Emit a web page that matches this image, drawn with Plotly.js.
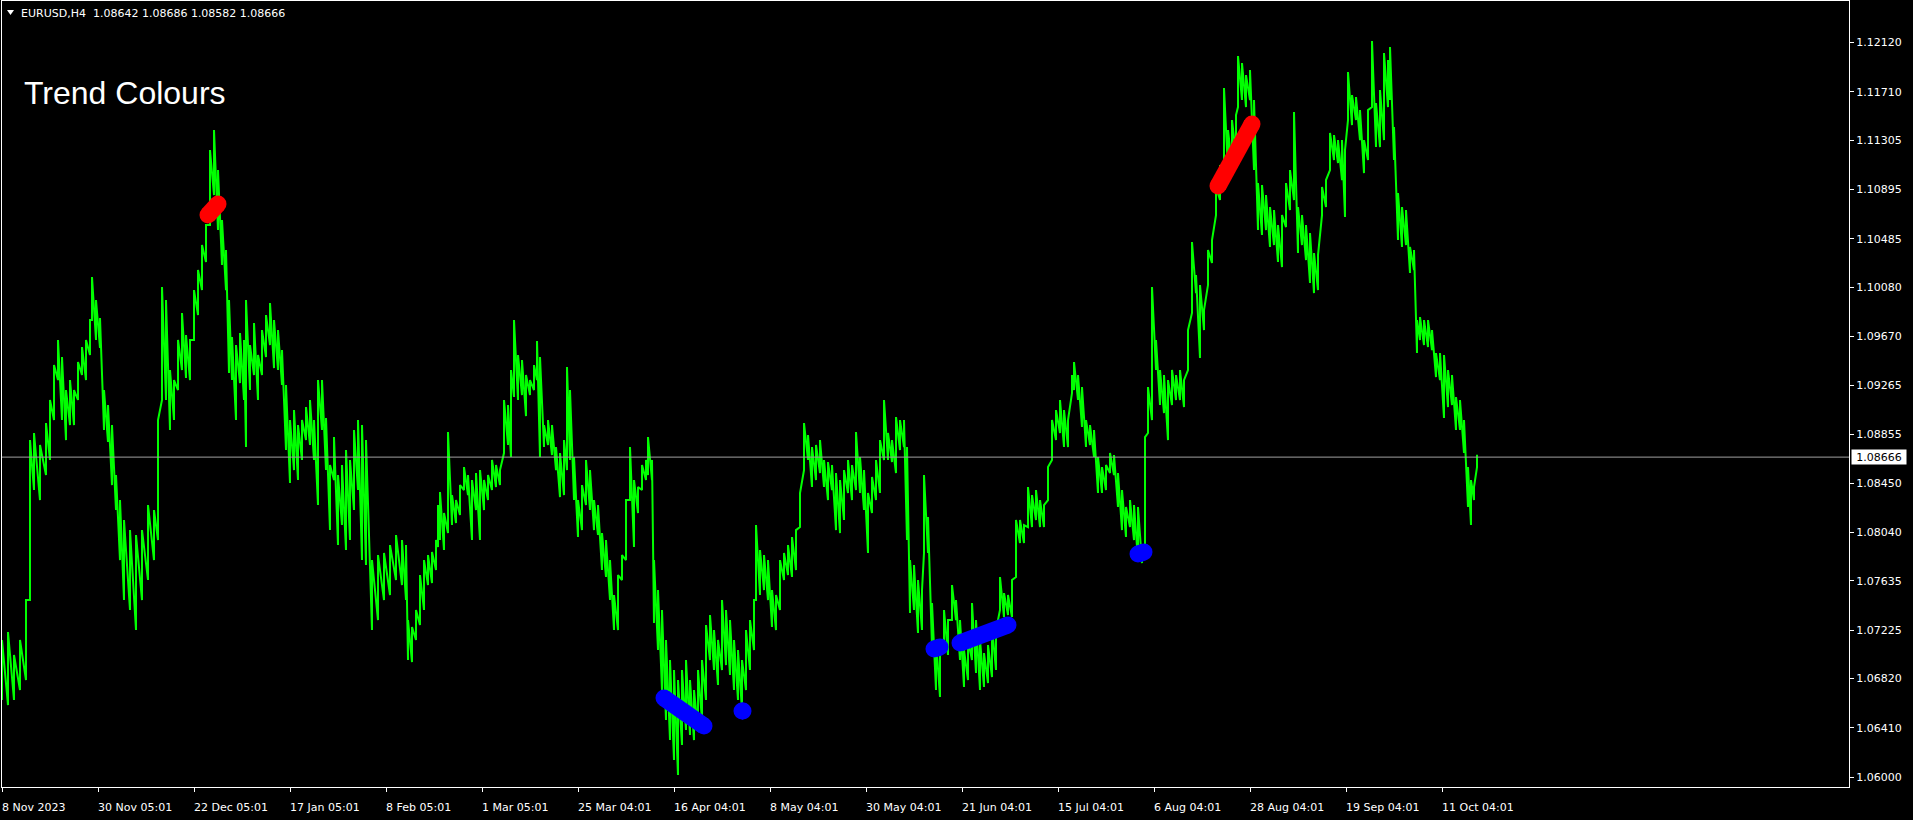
<!DOCTYPE html>
<html><head><meta charset="utf-8">
<script src="https://cdn.plot.ly/plotly-3.0.1.min.js"></script>
<style>html,body{margin:0;padding:0;background:#000;overflow:hidden}#chart{width:1913px;height:820px}</style>
</head><body><div id="chart"></div>
<script>
// H4 bars, one bar per step on the x axis (sampled envelope of the bars)
const barIndex = [2,8,14,20,26,30,34,40,46,50,54,58,62,66,70,74,78,82,86,90,92,96,100,104,108,112,116,120,124,130,136,142,148,154,158,162,166,170,174,178,182,186,190,194,198,202,206,210,214,218,222,226,229,232,236,240,244,246,250,254,258,262,266,270,274,278,282,286,290,294,298,302,306,310,314,318,322,326,330,334,338,342,346,350,354,358,362,366,372,378,384,390,396,402,406,408,412,416,420,424,428,432,436,438,440,444,448,452,456,460,464,468,472,476,480,484,488,492,496,500,504,508,511,514,518,522,526,530,534,537,540,544,548,552,556,560,564,567,570,574,578,582,586,590,594,598,602,606,610,614,618,622,626,630,634,638,642,646,648,652,654,658,662,666,670,674,678,682,686,690,694,698,702,706,710,714,718,722,726,730,734,738,742,746,750,754,756,760,764,768,772,776,780,784,788,792,796,800,804,808,812,816,820,824,828,832,836,840,844,848,852,856,860,864,868,872,876,880,884,888,892,896,900,904,907,910,914,918,922,924,928,932,936,940,944,948,952,956,960,964,968,972,976,980,984,988,992,996,1000,1004,1008,1012,1016,1020,1024,1028,1032,1036,1040,1044,1048,1052,1056,1060,1064,1068,1072,1074,1078,1082,1086,1090,1094,1098,1102,1106,1110,1114,1118,1122,1126,1130,1134,1138,1142,1145,1148,1152,1156,1160,1164,1168,1172,1176,1180,1184,1188,1192,1196,1200,1204,1208,1212,1216,1220,1224,1228,1232,1236,1238,1242,1246,1250,1254,1258,1262,1266,1270,1274,1278,1282,1286,1290,1294,1298,1302,1306,1310,1314,1318,1322,1326,1330,1334,1338,1342,1345,1348,1352,1356,1360,1364,1368,1372,1376,1380,1384,1388,1390,1394,1398,1402,1406,1410,1414,1417,1420,1424,1428,1432,1436,1440,1444,1448,1452,1456,1460,1464,1468,1471,1474,1477];
const barHigh = [1.07142,1.07208,1.07017,1.07142,1.07475,1.08808,1.08867,1.08767,1.08950,1.09142,1.09433,1.09642,1.09500,1.09225,1.09308,1.09225,1.09458,1.09583,1.09642,1.09808,1.10167,1.09975,1.09825,1.09225,1.09100,1.08933,1.08517,1.08308,1.08142,1.08058,1.08017,1.08058,1.08267,1.08225,1.08975,1.10083,1.09975,1.09392,1.09308,1.09642,1.09867,1.09683,1.09642,1.10058,1.10225,1.10433,1.10600,1.11225,1.11392,1.11058,1.10642,1.10392,1.09975,1.09667,1.09600,1.09700,1.09642,1.09975,1.09600,1.09783,1.09517,1.09725,1.09850,1.09950,1.09808,1.09725,1.09558,1.09267,1.08975,1.09058,1.08933,1.08975,1.09083,1.09142,1.08975,1.09308,1.09308,1.08992,1.08600,1.08833,1.08517,1.08600,1.08725,1.08642,1.08892,1.08975,1.08933,1.08808,1.07808,1.07850,1.07867,1.07933,1.08017,1.07975,1.07933,1.07308,1.07250,1.07392,1.07683,1.07808,1.07850,1.07875,1.07975,1.08267,1.08375,1.08200,1.08875,1.08350,1.08308,1.08433,1.08583,1.08517,1.08475,1.08533,1.08558,1.08475,1.08517,1.08642,1.08600,1.08558,1.09142,1.09100,1.09392,1.09808,1.09517,1.09475,1.09350,1.09308,1.09433,1.09633,1.09500,1.08933,1.08975,1.08933,1.08750,1.08700,1.08808,1.09417,1.09225,1.08667,1.08308,1.08433,1.08642,1.08558,1.08308,1.08267,1.08033,1.07975,1.07808,1.07517,1.07683,1.07850,1.08308,1.08750,1.08475,1.08417,1.08600,1.08642,1.08833,1.08642,1.07808,1.07558,1.07392,1.07142,1.06975,1.06892,1.06808,1.06892,1.06975,1.06808,1.06725,1.06892,1.06975,1.07267,1.07350,1.07225,1.07142,1.07475,1.07392,1.07308,1.07142,1.07058,1.06975,1.07225,1.07308,1.07475,1.08100,1.07892,1.07850,1.07808,1.07558,1.07517,1.07808,1.07867,1.07933,1.08000,1.08058,1.08367,1.08950,1.08850,1.08750,1.08767,1.08808,1.08642,1.08625,1.08600,1.08533,1.08475,1.08558,1.08642,1.08600,1.08875,1.08667,1.08558,1.08367,1.08500,1.08642,1.08808,1.09142,1.08867,1.08808,1.09000,1.08975,1.08975,1.08750,1.07808,1.07767,1.07642,1.07558,1.08517,1.08167,1.07450,1.07142,1.07117,1.07392,1.07308,1.07600,1.07475,1.07308,1.07058,1.07142,1.07450,1.07308,1.07142,1.07033,1.07100,1.07250,1.07225,1.07667,1.07533,1.07517,1.07642,1.08142,1.08142,1.08100,1.08417,1.08350,1.08392,1.08308,1.08267,1.08583,1.08975,1.09058,1.09142,1.09058,1.08975,1.09350,1.09458,1.09350,1.09250,1.08975,1.08933,1.08892,1.08667,1.08583,1.08600,1.08700,1.08683,1.08533,1.08392,1.08250,1.08308,1.08267,1.08250,1.07892,1.08833,1.09250,1.10083,1.09642,1.09392,1.09350,1.09308,1.09392,1.09350,1.09392,1.09308,1.09725,1.10458,1.10183,1.10100,1.09892,1.10392,1.10475,1.10917,1.11100,1.11742,1.11392,1.11475,1.11517,1.12008,1.11950,1.11850,1.11892,1.11642,1.10950,1.10933,1.10850,1.10750,1.10725,1.10600,1.10683,1.10950,1.11058,1.11542,1.10750,1.10683,1.10600,1.10533,1.10367,1.10350,1.10917,1.10975,1.11367,1.11350,1.11308,1.11308,1.11225,1.11875,1.11683,1.11667,1.11558,1.11308,1.11558,1.12133,1.11617,1.11725,1.12033,1.11975,1.12083,1.11417,1.10867,1.10750,1.10725,1.10417,1.10392,1.09808,1.09833,1.09808,1.09808,1.09725,1.09533,1.09533,1.09517,1.09392,1.09350,1.09167,1.09142,1.08975,1.08583,1.08475,1.08417,1.08686];
const barLow = [1.06642,1.06600,1.06642,1.06725,1.06808,1.07475,1.08392,1.08308,1.08517,1.08642,1.08975,1.09308,1.08975,1.08808,1.08933,1.08933,1.09142,1.09350,1.09308,1.09517,1.09808,1.09642,1.09575,1.08892,1.08792,1.08433,1.08225,1.07808,1.07475,1.07392,1.07225,1.07475,1.07642,1.07808,1.07975,1.09142,1.09142,1.08892,1.08975,1.09225,1.09392,1.09325,1.09308,1.09642,1.09850,1.10058,1.10292,1.10600,1.10850,1.10558,1.10267,1.10058,1.09367,1.09308,1.08975,1.09283,1.09142,1.08750,1.09225,1.09350,1.09142,1.09350,1.09500,1.09600,1.09408,1.09392,1.09267,1.08725,1.08450,1.08558,1.08475,1.08642,1.08808,1.08767,1.08642,1.08267,1.08892,1.08558,1.08058,1.08475,1.07933,1.08100,1.07892,1.07975,1.08225,1.08392,1.07808,1.07767,1.07225,1.07308,1.07475,1.07517,1.07642,1.07600,1.07475,1.06975,1.06958,1.07142,1.07267,1.07392,1.07600,1.07617,1.07725,1.07917,1.07975,1.07892,1.08033,1.08100,1.08117,1.08183,1.08392,1.08350,1.07975,1.08225,1.07975,1.08225,1.08308,1.08392,1.08417,1.08433,1.08700,1.08767,1.08667,1.09167,1.09142,1.09183,1.09008,1.09183,1.09225,1.09308,1.08667,1.08750,1.08767,1.08683,1.08558,1.08333,1.08350,1.08558,1.08642,1.08308,1.08000,1.08058,1.08267,1.08225,1.08058,1.08017,1.07725,1.07667,1.07475,1.07225,1.07225,1.07642,1.07808,1.08308,1.07917,1.08200,1.08392,1.08475,1.08517,1.08475,1.07283,1.07058,1.06725,1.06475,1.06308,1.06142,1.06017,1.06267,1.06392,1.06350,1.06308,1.06392,1.06475,1.06642,1.06975,1.06892,1.06767,1.06892,1.06933,1.06850,1.06725,1.06642,1.06558,1.06725,1.06892,1.07058,1.07475,1.07517,1.07558,1.07475,1.07250,1.07225,1.07392,1.07642,1.07683,1.07667,1.07725,1.08083,1.08558,1.08642,1.08417,1.08475,1.08533,1.08417,1.08308,1.08392,1.08058,1.08033,1.08142,1.08367,1.08308,1.08392,1.08367,1.08225,1.07867,1.08200,1.08308,1.08367,1.08642,1.08642,1.08625,1.08533,1.08725,1.08750,1.07975,1.07367,1.07392,1.07200,1.07225,1.07867,1.07867,1.07083,1.06725,1.06667,1.07033,1.07017,1.07308,1.07308,1.06975,1.06750,1.06808,1.06975,1.06867,1.06725,1.06750,1.06783,1.06833,1.06892,1.07392,1.07333,1.07350,1.07333,1.07667,1.07950,1.07950,1.08083,1.08083,1.08142,1.08083,1.08083,1.08308,1.08642,1.08808,1.08867,1.08750,1.08750,1.09200,1.09225,1.09142,1.08917,1.08750,1.08767,1.08667,1.08367,1.08367,1.08392,1.08533,1.08517,1.08250,1.08058,1.08000,1.08083,1.07975,1.07808,1.07783,1.07867,1.08867,1.08975,1.09392,1.09100,1.09033,1.08808,1.09100,1.09142,1.09142,1.09083,1.09392,1.09867,1.10033,1.09492,1.09725,1.10100,1.10283,1.10683,1.10808,1.11000,1.11058,1.11100,1.11183,1.11583,1.11642,1.11583,1.11642,1.11058,1.10558,1.10517,1.10558,1.10417,1.10433,1.10292,1.10250,1.10583,1.10725,1.10808,1.10367,1.10433,1.10308,1.10117,1.10033,1.10058,1.10683,1.10750,1.11058,1.11142,1.11117,1.10975,1.10667,1.11475,1.11433,1.11475,1.11308,1.11033,1.11142,1.11583,1.11250,1.11250,1.11308,1.11583,1.11642,1.11142,1.10475,1.10417,1.10433,1.10200,1.10225,1.09533,1.09642,1.09600,1.09583,1.09558,1.09333,1.09308,1.08992,1.09083,1.09100,1.08892,1.08892,1.08700,1.08250,1.08100,1.08308,1.08582];

// "Trend Colours" indicator segments (null separates segments)
const redX  = [208, 218, null, 1218, 1252];
const redY  = [1.10683, 1.10775, null, 1.10925, 1.11442];
const blueX = [664, 704, null, 742, 743, null, 934, 940, null, 960, 1008, null, 1138, 1144];
const blueY = [1.06658, 1.06425, null, 1.06550, 1.06550, null, 1.07067, 1.07083, null, 1.07117, 1.07267, null, 1.07858, 1.07875];

const dateTickBars = [2, 98, 194, 290, 386, 482, 578, 674, 770, 866, 962, 1058, 1154, 1250, 1346, 1442];
const dateTickLabels = ['8 Nov 2023','30 Nov 05:01','22 Dec 05:01','17 Jan 05:01','8 Feb 05:01','1 Mar 05:01','25 Mar 04:01','16 Apr 04:01','8 May 04:01','30 May 04:01','21 Jun 04:01','15 Jul 04:01','6 Aug 04:01','28 Aug 04:01','19 Sep 04:01','11 Oct 04:01'];
const priceTicks = [1.06000,1.06410,1.06820,1.07225,1.07635,1.08040,1.08450,1.08855,1.09265,1.09670,1.10080,1.10485,1.10895,1.11305,1.11710,1.12120];
const priceTickLabels = ['1.06000','1.06410','1.06820','1.07225','1.07635','1.08040','1.08450','1.08855','1.09265','1.09670','1.10080','1.10485','1.10895','1.11305','1.11710','1.12120'];

const symbolName = 'EURUSD,H4';
const lastOHLC = ['1.08642', '1.08686', '1.08582', '1.08666'];
const lastPrice = 1.08666;
const chartTitle = 'Trend Colours';

const GREEN = '#00ff00';
const uiFont = {family: 'DejaVu Sans, Verdana, sans-serif', size: 11, color: '#ffffff'};

// each sampled bar drawn as a low->high stroke, joined to the next one
const barPathX = [], barPathY = [];
barIndex.forEach((b, i) => {
  barPathX.push(b, b);
  barPathY.push(barLow[i], barHigh[i]);
});

const traces = [
  {x: barPathX, y: barPathY, type: 'scatter', mode: 'lines', line: {color: GREEN, width: 2}, hoverinfo: 'skip'},
  {x: redX, y: redY, type: 'scatter', mode: 'lines+markers', connectgaps: false, line: {color: '#ff0000', width: 17}, marker: {color: '#ff0000', size: 17}, hoverinfo: 'skip'},
  {x: blueX, y: blueY, type: 'scatter', mode: 'lines+markers', connectgaps: false, line: {color: '#0000ff', width: 17}, marker: {color: '#0000ff', size: 17}, hoverinfo: 'skip'}
];

const annotations = dateTickBars.map((b, i) => ({
  x: b, xref: 'x', y: -0.0267, yref: 'paper', text: dateTickLabels[i], showarrow: false,
  xanchor: 'left', yanchor: 'middle', xshift: -2, font: uiFont
}));
annotations.push({
  x: 0, xref: 'paper', y: 0.9847, yref: 'paper', xanchor: 'left', yanchor: 'middle', xshift: 17,
  text: symbolName + '&nbsp;&nbsp;' + lastOHLC.join(' '), showarrow: false, font: uiFont
});
annotations.push({
  x: 0, xref: 'paper', y: 0.883, yref: 'paper', xanchor: 'left', yanchor: 'middle', xshift: 20,
  text: chartTitle, showarrow: false,
  font: {family: 'Liberation Sans, Arial, sans-serif', size: 32, color: '#ffffff'}
});
annotations.push({
  x: 1, xref: 'paper', y: lastPrice, yref: 'y', xanchor: 'left', yanchor: 'middle', xshift: 2,
  text: lastOHLC[3], showarrow: false, bgcolor: '#ffffff', borderpad: 1, width: 52, height: 12,
  font: {family: 'DejaVu Sans, Verdana, sans-serif', size: 11, color: '#000000'}
});

const layout = {
  width: 1913, height: 820,
  margin: {l: 2, r: 64, t: 1, b: 33, pad: 0},
  paper_bgcolor: '#000000', plot_bgcolor: '#000000',
  showlegend: false,
  xaxis: {
    range: [2, 1849], showgrid: false, zeroline: false,
    showline: true, linecolor: '#ffffff', linewidth: 1, mirror: true,
    ticks: 'outside', ticklen: 4, tickcolor: '#ffffff', tickwidth: 1,
    tickmode: 'array', tickvals: dateTickBars, showticklabels: false, fixedrange: true
  },
  yaxis: {
    side: 'right', range: [1.05917, 1.12467], showgrid: false, zeroline: false,
    showline: true, linecolor: '#ffffff', linewidth: 1, mirror: true,
    ticks: 'outside', ticklen: 4, tickcolor: '#ffffff', tickwidth: 1,
    tickmode: 'array', tickvals: priceTicks, ticktext: priceTickLabels,
    tickfont: uiFont, fixedrange: true
  },
  shapes: [
    {type: 'line', xref: 'paper', x0: 0, x1: 1, yref: 'y', y0: lastPrice, y1: lastPrice,
     line: {color: '#a0a0a0', width: 1}, layer: 'above'},
    {type: 'path', xref: 'paper', yref: 'paper',
     path: 'M 0.00271 0.98855 L 0.00650 0.98855 L 0.00460 0.98219 Z',
     fillcolor: '#ffffff', line: {color: '#ffffff', width: 0}}
  ],
  annotations: annotations
};

Plotly.newPlot('chart', traces, layout, {displayModeBar: false, staticPlot: true});
</script>
</body></html>
